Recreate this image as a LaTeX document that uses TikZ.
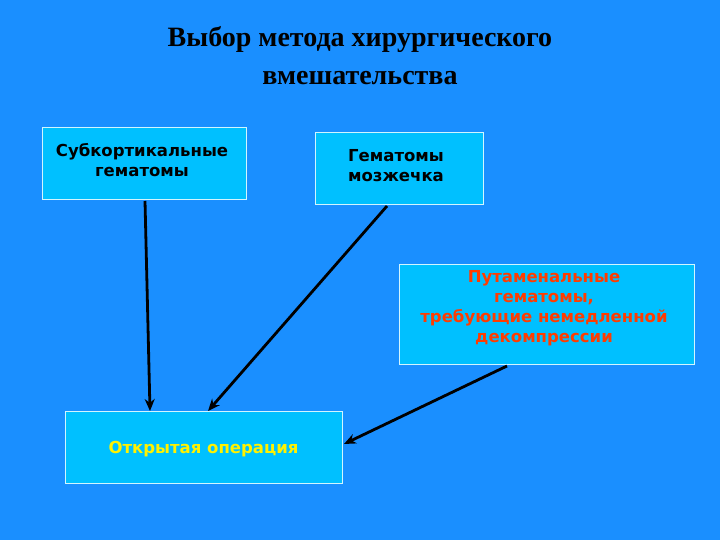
\documentclass[tikz,border=0pt]{standalone}
\usepackage{fontspec}
\setmainfont{Liberation Serif}
\newfontfamily\boxfont{DejaVu Sans}
\usetikzlibrary{arrows.meta}
\definecolor{bg}{RGB}{26,143,255}
\definecolor{boxfill}{RGB}{0,192,255}
\definecolor{redtxt}{RGB}{255,60,0}
\definecolor{boxline}{RGB}{210,245,255}
\begin{document}
\begin{tikzpicture}[x=1pt,y=-1pt,
  bx/.style={draw=boxline,line width=1pt,fill=boxfill},
  lbl/.style={font=\boxfont\bfseries\fontsize{16.5}{20}\selectfont,align=center},
  arr/.style={-{Stealth[length=12pt,width=10pt]},line width=2.8pt,black}]
\fill[bg] (0,0) rectangle (720,540);
\useasboundingbox (0,0) rectangle (720,540);
\node[font=\bfseries\fontsize{28}{38}\selectfont,align=center] (title) at (360,56) {Выбор метода хирургического\\вмешательства};
\node[bx,minimum width=204,minimum height=72] (a) at (144,164) {};
\node[lbl,anchor=north] (at) at (142,140) {Субкортикальные\\гематомы};
\node[bx,minimum width=168,minimum height=72] (b) at (399,169) {};
\node[lbl,anchor=north] (bt) at (396,146) {Гематомы\\ мозжечка};
\node[bx,minimum width=295,minimum height=100] (c) at (546.5,314) {};
\node[lbl,text=redtxt,anchor=north] (ct) at (544,267) {Путаменальные\\гематомы,\\требующие немедленной\\декомпрессии};
\node[bx,minimum width=277,minimum height=72] (d) at (203.5,447) {};
\node[lbl,text=yellow] (dt) at (203.5,449) {Открытая операция};
\coordinate (a1) at (145,201); \coordinate (d1) at (150,411);
\coordinate (b1) at (387,206); \coordinate (d2) at (208,411);
\coordinate (c1) at (507,366); \coordinate (d3) at (344,444);
\draw[arr] (a1) -- (d1);
\draw[arr] (b1) -- (d2);
\draw[arr] (c1) -- (d3);
\end{tikzpicture}
\end{document}
